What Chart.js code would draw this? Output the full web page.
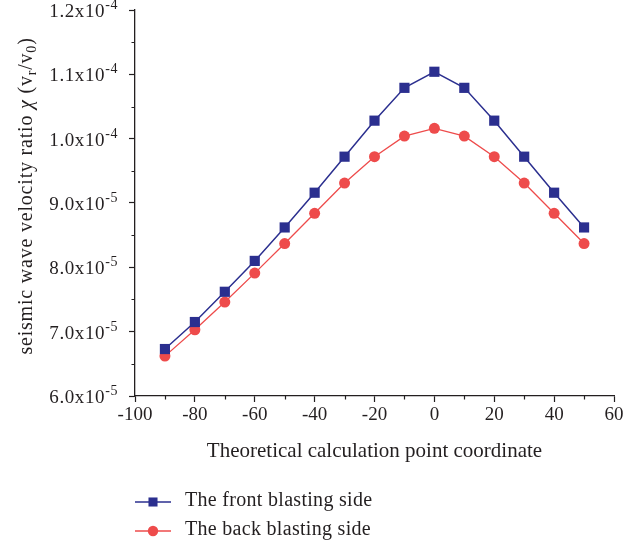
<!DOCTYPE html>
<html>
<head>
<meta charset="utf-8">
<script src="https://cdn.jsdelivr.net/npm/chart.js@4/dist/chart.umd.min.js"></script>
<style>
  html, body { margin: 0; padding: 0; background: #fff; }
  #wrap { width: 639px; height: 545px; position: relative; }
</style>
</head>
<body>
<div id="wrap"><canvas id="chart" width="639" height="545"></canvas></div>
<script>
const xCoords = [-90, -80, -70, -60, -50, -40, -30, -20, -10, 0, 10, 20, 30, 40, 50];
const frontSide = [6.73e-5, 7.15e-5, 7.62e-5, 8.10e-5, 8.62e-5, 9.16e-5, 9.72e-5, 1.028e-4,
  1.079e-4, 1.104e-4, 1.079e-4, 1.028e-4, 9.72e-5, 9.16e-5, 8.62e-5];
const backSide = [6.62e-5, 7.03e-5, 7.46e-5, 7.91e-5, 8.37e-5, 8.84e-5, 9.31e-5, 9.72e-5,
  1.004e-4, 1.016e-4, 1.004e-4, 9.72e-5, 9.31e-5, 8.84e-5, 8.37e-5];
const seriesNames = ["The front blasting side", "The back blasting side"];
const yTickMantissa = ["6.0", "7.0", "8.0", "9.0", "1.0", "1.1", "1.2"];
const yTickExponent = ["-5", "-5", "-5", "-5", "-4", "-4", "-4"];
const xTitle = "Theoretical calculation point coordinate";

const SERIF = "'Liberation Serif', 'DejaVu Serif', serif";
const INK = "#231f20";
const BLUE = "#2b2f8f";
const RED = "#ee4b4b";
const PAD_BOTTOM = 81;

function toPoints(xs, ys) {
  return xs.map((x, i) => ({ x, y: ys[i] }));
}

// draws pieces of text one after another, some raised or lowered
function drawRich(ctx, pieces, x, y, align) {
  let total = 0;
  for (const p of pieces) {
    ctx.font = p.font;
    p.w = ctx.measureText(p.text).width;
    total += p.w;
  }
  let cx = align === "right" ? x - total : align === "center" ? x - total / 2 : x;
  for (const p of pieces) {
    ctx.font = p.font;
    ctx.fillText(p.text, cx, y + (p.dy || 0));
    cx += p.w;
  }
}

const extrasPlugin = {
  id: "extras",
  afterDraw(chart) {
    const { ctx, chartArea, scales } = chart;
    const xs = scales.x;
    const ys = scales.y;
    ctx.save();
    ctx.strokeStyle = INK;
    ctx.fillStyle = INK;
    ctx.lineWidth = 1.2;
    ctx.textAlign = "left";

    // minor ticks half way between major ones
    ctx.beginPath();
    for (let i = 0; i < xs.ticks.length - 1; i++) {
      const v = (xs.ticks[i].value + xs.ticks[i + 1].value) / 2;
      const px = Math.round(xs.getPixelForValue(v)) + 0.5;
      ctx.moveTo(px, chartArea.bottom);
      ctx.lineTo(px, chartArea.bottom + 3.5);
    }
    for (let i = 0; i < ys.ticks.length - 1; i++) {
      const v = (ys.ticks[i].value + ys.ticks[i + 1].value) / 2;
      const py = Math.round(ys.getPixelForValue(v)) + 0.5;
      ctx.moveTo(chartArea.left, py);
      ctx.lineTo(chartArea.left - 3.5, py);
    }
    ctx.stroke();

    // y tick labels with superscript exponent
    ctx.textBaseline = "alphabetic";
    ctx.letterSpacing = "0.6px";
    ys.ticks.forEach((t, i) => {
      const py = ys.getPixelForValue(t.value);
      drawRich(ctx, [
        { text: yTickMantissa[i] + "x10", font: "19px " + SERIF },
        { text: yTickExponent[i], font: "14px " + SERIF, dy: -8 },
      ], chartArea.left - 17, py + 7, "right");
    });

    // y axis title, rotated, with subscripts
    ctx.save();
    ctx.translate(25, 196);
    ctx.rotate(-Math.PI / 2);
    ctx.letterSpacing = "0.8px";
    const f = "20px " + SERIF;
    const fs = "14px " + SERIF;
    drawRich(ctx, [
      { text: "seismic wave velocity ratio ", font: f },
      { text: "\u03c7", font: "italic " + f },
      { text: " (v", font: f },
      { text: "r", font: fs, dy: 4 },
      { text: "/v", font: f },
      { text: "0", font: fs, dy: 4 },
      { text: ")", font: f },
    ], 0, 7, "center");
    ctx.restore();

    // legend, stacked under the plot
    ctx.letterSpacing = "0.3px";
    chart.data.datasets.forEach((ds, i) => {
      const ly = 502 + i * 29;
      ctx.strokeStyle = ds.borderColor;
      ctx.lineWidth = ds.borderWidth;
      ctx.beginPath();
      ctx.moveTo(135, ly);
      ctx.lineTo(171, ly);
      ctx.stroke();
      ctx.fillStyle = ds.backgroundColor;
      Chart.helpers.drawPoint(ctx, {
        pointStyle: ds.pointStyle,
        radius: ds.legendRadius,
        rotation: 0,
        borderWidth: 0,
      }, 153, ly);
      ctx.fillStyle = INK;
      ctx.font = "20px " + SERIF;
      ctx.textBaseline = "middle";
      ctx.fillText(ds.label, 185, ly - 1);
      ctx.textBaseline = "alphabetic";
    });
    ctx.restore();
  },
};

new Chart(document.getElementById("chart"), {
  type: "line",
  data: {
    datasets: [
      {
        label: seriesNames[0],
        data: toPoints(xCoords, frontSide),
        borderColor: BLUE,
        backgroundColor: BLUE,
        borderWidth: 1.5,
        pointStyle: "rect",
        pointRadius: 7.2,
        legendRadius: 6.4,
        pointBorderWidth: 0,
        tension: 0,
      },
      {
        label: seriesNames[1],
        data: toPoints(xCoords, backSide),
        borderColor: RED,
        backgroundColor: RED,
        borderWidth: 1.3,
        pointStyle: "circle",
        pointRadius: 5.5,
        legendRadius: 5.2,
        pointBorderWidth: 0,
        tension: 0,
      },
    ],
  },
  options: {
    responsive: false,
    animation: false,
    devicePixelRatio: 1,
    layout: { padding: { top: 10, right: 25, bottom: PAD_BOTTOM, left: 0 } },
    plugins: {
      legend: { display: false },
      tooltip: { enabled: false },
    },
    scales: {
      x: {
        type: "linear",
        min: -100,
        max: 60,
        afterFit(scale) { scale.height = 545 - PAD_BOTTOM - 396; },
        ticks: {
          stepSize: 20,
          color: INK,
          padding: 2,
          font: { family: SERIF, size: 19 },
        },
        grid: {
          drawOnChartArea: false,
          tickLength: 6,
          tickColor: INK,
          tickWidth: 1.2,
        },
        border: { color: INK, width: 1.3 },
        title: {
          display: true,
          text: xTitle,
          color: INK,
          font: { family: SERIF, size: 21 },
          padding: 0,
        },
      },
      y: {
        type: "linear",
        min: 6e-5,
        max: 1.2e-4,
        afterFit(scale) { scale.width = 135; },
        ticks: { stepSize: 1e-5, display: false },
        grid: {
          drawOnChartArea: false,
          tickLength: 6,
          tickColor: INK,
          tickWidth: 1.2,
        },
        border: { color: INK, width: 1.3 },
      },
    },
  },
  plugins: [extrasPlugin],
});
</script>
</body>
</html>
